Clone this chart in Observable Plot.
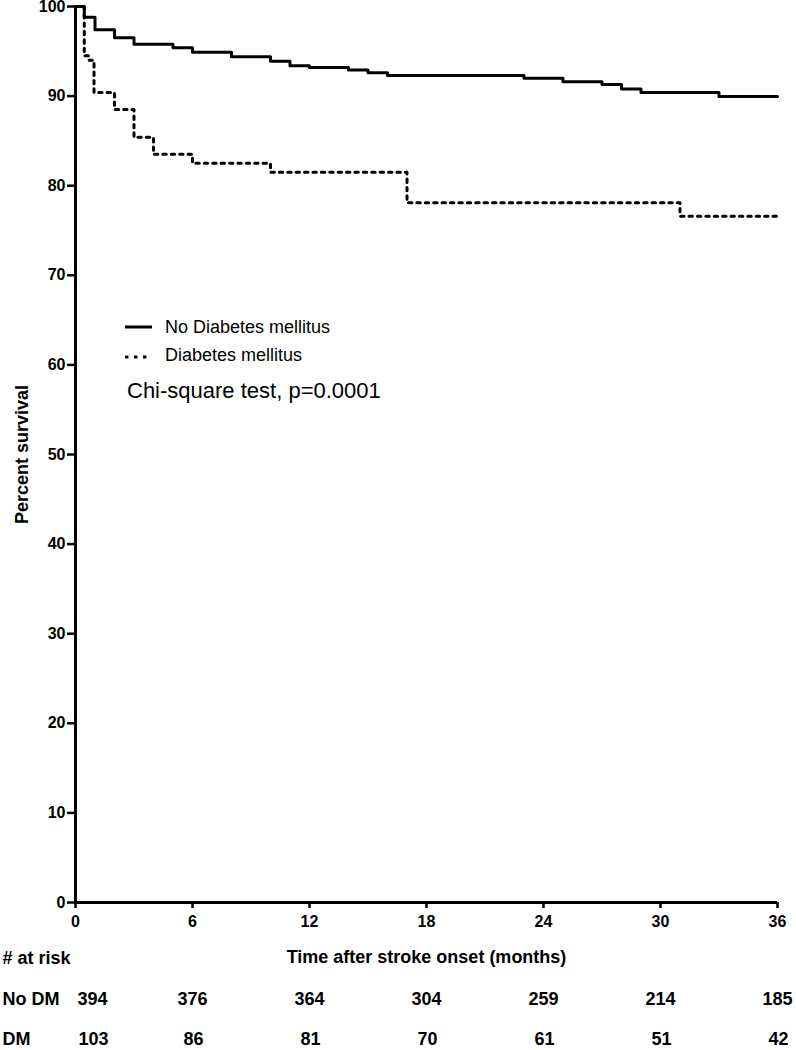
<!DOCTYPE html>
<html>
<head>
<meta charset="utf-8">
<script src="https://cdn.jsdelivr.net/npm/d3@7"></script>
<script src="https://cdn.jsdelivr.net/npm/@observablehq/plot@0.6"></script>
<style>
  html, body { margin: 0; padding: 0; background: #fff; }
  #wrap { position: relative; width: 796px; height: 1050px; font-family: "Liberation Sans", Arial, Helvetica, sans-serif; color: #000; }
  #legend { position: absolute; left: 0; top: 0; width: 796px; height: 1050px; pointer-events: none; }
  .lg-text { position: absolute; font-size: 18px; line-height: 18px; white-space: nowrap; }
  .lg-sample { position: absolute; }
  .stat { position: absolute; font-size: 22px; line-height: 22px; white-space: nowrap; }
</style>
</head>
<body>
<div id="wrap">
  <div id="chart"></div>
  <div id="legend"></div>
</div>
<script>
// ---- Data ----
const seriesNames = ["No Diabetes mellitus", "Diabetes mellitus"];

const noDmTime = [0, 0.45, 1.0, 2.0, 3.0, 5.0, 6.0, 8.0, 10.0, 11.0, 12.0, 14.0, 15.0, 16.0, 23.0, 25.0, 27.0, 28.0, 29.0, 33.0, 36];
const noDmSurv = [100, 98.8, 97.4, 96.5, 95.8, 95.4, 94.9, 94.4, 93.9, 93.4, 93.2, 92.9, 92.6, 92.3, 92.0, 91.6, 91.3, 90.8, 90.4, 89.95, 89.95];

const dmTime = [0, 0.45, 0.7, 0.95, 2.0, 3.0, 4.0, 6.0, 10.0, 17.0, 31.0, 36];
const dmSurv = [100, 94.5, 94.0, 90.4, 88.5, 85.4, 83.5, 82.5, 81.5, 78.1, 76.6, 76.6];

const xTicks = [0, 6, 12, 18, 24, 30, 36];
const yTicks = [0, 10, 20, 30, 40, 50, 60, 70, 80, 90, 100];

const riskTimes = [0, 6, 12, 18, 24, 30, 36];
const riskNoDm = [394, 376, 364, 304, 259, 214, 185];
const riskDm = [103, 86, 81, 70, 61, 51, 42];
const riskRowLabels = ["No DM", "DM"];

const xLabel = "Time after stroke onset (months)";
const yLabel = "Percent survival";
const riskHeader = "# at risk";
const statText = "Chi-square test, p=0.0001";

// ---- Build tables ----
const noDm = noDmTime.map((t, i) => ({time: t, surv: noDmSurv[i]}));
const dm = dmTime.map((t, i) => ({time: t, surv: dmSurv[i]}));
const riskA = riskTimes.map((t, i) => ({time: t, n: riskNoDm[i]}));
const riskB = riskTimes.map((t, i) => ({time: t, n: riskDm[i]}));

const FONT = '"Liberation Sans", Arial, Helvetica, sans-serif';
const T = {fontSize: 18, fontWeight: "bold", fill: "#000", lineAnchor: "middle"};

const chart = Plot.plot({
  width: 796,
  height: 1050,
  marginLeft: 75,
  marginRight: 19,
  marginTop: 6,
  marginBottom: 148,
  style: {fontFamily: FONT, fontSize: "16px", fontWeight: "bold", color: "#000", background: "#fff", overflow: "visible"},
  x: {domain: [0, 36]},
  y: {domain: [0, 100]},
  marks: [
    Plot.axisY({ticks: yTicks, tickSize: 8, tickPadding: 2, strokeWidth: 2.5, label: null, fontSize: 16, fontWeight: "bold"}),
    Plot.axisX({ticks: xTicks, tickSize: 6, tickPadding: 7, strokeWidth: 2.5, label: null, fontSize: 16, fontWeight: "bold"}),
    Plot.ruleX([0], {stroke: "#000", strokeWidth: 3}),
    Plot.ruleY([0], {stroke: "#000", strokeWidth: 3}),
    Plot.line(noDm, {x: "time", y: "surv", curve: "step-after", stroke: "#000", strokeWidth: 3}),
    Plot.line(dm, {x: "time", y: "surv", curve: "step-after", stroke: "#000", strokeWidth: 3, strokeDasharray: "3.4,5"}),
    // axis titles
    Plot.text([xLabel], {...T, frameAnchor: "bottom", textAnchor: "middle", dy: 55}),
    Plot.text([yLabel], {...T, frameAnchor: "left", textAnchor: "middle", dx: -53.5, rotate: -90}),
    // risk table
    Plot.text([riskHeader], {...T, frameAnchor: "bottom-left", textAnchor: "start", dx: -73, dy: 56}),
    Plot.text([riskRowLabels[0]], {...T, frameAnchor: "bottom-left", textAnchor: "start", dx: -73, dy: 97}),
    Plot.text([riskRowLabels[1]], {...T, frameAnchor: "bottom-left", textAnchor: "start", dx: -73, dy: 137}),
    Plot.text(riskA.slice(0, 1), {...T, x: "time", text: "n", frameAnchor: "bottom", textAnchor: "middle", dx: 17, dy: 97}),
    Plot.text(riskA.slice(1), {...T, x: "time", text: "n", frameAnchor: "bottom", textAnchor: "middle", dx: 0, dy: 97}),
    Plot.text(riskB.slice(0, 1), {...T, x: "time", text: "n", frameAnchor: "bottom", textAnchor: "middle", dx: 18, dy: 137}),
    Plot.text(riskB.slice(1), {...T, x: "time", text: "n", frameAnchor: "bottom", textAnchor: "middle", dx: 1, dy: 137})
  ]
});
document.getElementById("chart").appendChild(chart);

// ---- In-plot legend (HTML overlay) ----
const legend = document.getElementById("legend");
function addSample(top, dash) {
  const svgNS = "http://www.w3.org/2000/svg";
  const s = document.createElementNS(svgNS, "svg");
  s.setAttribute("width", 30); s.setAttribute("height", 6);
  s.setAttribute("class", "lg-sample");
  s.style.left = "125px"; s.style.top = (top - 3) + "px";
  const l = document.createElementNS(svgNS, "line");
  l.setAttribute("x1", 0); l.setAttribute("x2", dash ? 23 : 27);
  l.setAttribute("y1", 3); l.setAttribute("y2", 3);
  l.setAttribute("stroke", "#000"); l.setAttribute("stroke-width", 3);
  if (dash) l.setAttribute("stroke-dasharray", "3.4,5.6");
  s.appendChild(l);
  legend.appendChild(s);
}
function addText(cls, txt, left, centerY, size) {
  const d = document.createElement("div");
  d.className = cls; d.textContent = txt;
  d.style.left = left + "px"; d.style.top = (centerY - size / 2) + "px";
  legend.appendChild(d);
}
addSample(327, false);
addText("lg-text", seriesNames[0], 165, 327, 18);
addSample(357, true);
addText("lg-text", seriesNames[1], 165, 355, 18);
addText("stat", statText, 127, 391, 22);
</script>
</body>
</html>
